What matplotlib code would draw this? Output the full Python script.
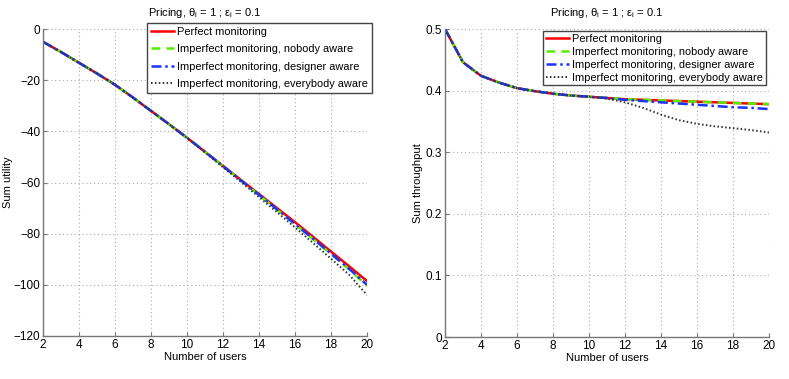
import matplotlib
matplotlib.use("Agg")
import matplotlib.pyplot as plt
import numpy as np

plt.rcParams['font.family'] = ['Liberation Sans', 'DejaVu Sans']
plt.rcParams['axes.unicode_minus'] = True

users = [2, 3, 4, 5, 6, 7, 8, 9, 10, 11, 12, 13, 14, 15, 16, 17, 18, 19, 20]

# Sum utility
util_perfect = [-5.0, -9.0, -13.2, -17.4, -21.8, -26.8, -32.0, -37.2, -42.5, -48.0, -53.5, -59.0, -64.5, -70.0, -75.5, -81.2, -87.0, -92.7, -98.5]
util_nobody = [-5.0, -9.0, -13.2, -17.4, -21.8, -26.8, -32.0, -37.2, -42.5, -48.0, -53.6, -59.2, -64.9, -70.6, -76.3, -82.1, -88.0, -93.9, -100.4]
util_designer = [-5.0, -9.0, -13.2, -17.4, -21.8, -26.8, -32.0, -37.2, -42.5, -48.0, -53.6, -59.2, -64.8, -70.5, -76.2, -82.0, -87.8, -93.7, -100.0]
util_everybody = [-5.0, -9.0, -13.2, -17.4, -21.8, -26.8, -32.0, -37.2, -42.6, -48.2, -54.0, -59.8, -65.7, -71.6, -77.6, -83.6, -89.8, -96.0, -104.0]

# Sum throughput
thr_perfect = [0.500, 0.446, 0.424, 0.413, 0.404, 0.399, 0.395, 0.392, 0.390, 0.388, 0.386, 0.385, 0.384, 0.383, 0.382, 0.381, 0.380, 0.379, 0.378]
thr_nobody = [0.500, 0.446, 0.424, 0.413, 0.404, 0.399, 0.395, 0.392, 0.390, 0.388, 0.386, 0.385, 0.384, 0.383, 0.382, 0.381, 0.380, 0.379, 0.378]
thr_designer = [0.500, 0.446, 0.424, 0.413, 0.404, 0.399, 0.395, 0.392, 0.390, 0.388, 0.385, 0.383, 0.381, 0.379, 0.377, 0.375, 0.373, 0.372, 0.370]
thr_everybody = [0.500, 0.446, 0.424, 0.413, 0.404, 0.399, 0.395, 0.392, 0.390, 0.387, 0.381, 0.372, 0.361, 0.352, 0.346, 0.342, 0.339, 0.336, 0.332]

labels = ["Perfect monitoring",
          "Imperfect monitoring, nobody aware",
          "Imperfect monitoring, designer aware",
          "Imperfect monitoring, everybody aware"]

title = r"Pricing, $\mathregular{\theta_i}$ = 1 ; $\mathregular{\varepsilon_i}$ = 0.1"

FS = 8

fig = plt.figure(figsize=(7.89, 3.79), dpi=100)
ax1 = fig.add_axes([43/789, 1-336/379, 324/789, 307/379])
ax2 = fig.add_axes([445/789, 1-337/379, 324/789, 308/379])

styles = [dict(color='#ff0000', ls='-', lw=1.8),
          dict(color='#55ee00', ls=(0, (3.5, 2.5)), lw=1.8),
          dict(color='#1a33ff', ls=(0, (4, 1.5, 1, 1.5)), lw=1.8),
          dict(color='#333333', ls=(0, (0.8, 1.2)), lw=1.4)]

def style_axes(ax):
    for s in ['top', 'right']:
        ax.spines[s].set_visible(False)
    for s in ['left', 'bottom']:
        ax.spines[s].set_color('#777777')
        ax.spines[s].set_linewidth(1.0)
    ax.grid(True, ls=(0, (1, 2.5)), color='#aaaaaa', lw=0.8)
    ax.tick_params(direction='in', length=3, color='#777777', labelsize=FS + 0.5, pad=2)
    ax.set_xlim(2, 20)
    ax.set_xticks(range(2, 21, 2))
    ax.set_xlabel("Number of users", fontsize=FS, labelpad=1)

for data, st, lab in zip([util_perfect, util_nobody, util_designer, util_everybody], styles, labels):
    ax1.plot(users, data, label=lab, **st)
style_axes(ax1)
ax1.set_ylim(-120, 0)
ax1.set_yticks(range(-120, 1, 20))
ax1.set_ylabel("Sum utility", fontsize=FS)
ax1.yaxis.set_label_coords(-0.093, 0.5)
ax1.set_title(title, fontsize=FS, pad=9)
leg1 = ax1.legend(loc='upper left', bbox_to_anchor=(147/789, 1-23/379), bbox_transform=fig.transFigure,
                  fontsize=FS - 0.1, frameon=True, fancybox=False, framealpha=1, edgecolor='#444444',
                  handlelength=2.1, handletextpad=0.3, labelspacing=0.68, borderpad=0.35, borderaxespad=0)
leg1.get_frame().set_linewidth(1.0)

for data, st, lab in zip([thr_perfect, thr_nobody, thr_designer, thr_everybody], styles, labels):
    ax2.plot(users, data, label=lab, **st)
style_axes(ax2)
ax2.set_ylim(0, 0.5)
ax2.set_yticks([0, 0.1, 0.2, 0.3, 0.4, 0.5])
ax2.set_yticklabels(['0', '0.1', '0.2', '0.3', '0.4', '0.5'])
ax2.set_ylabel("Sum throughput", fontsize=FS)
ax2.yaxis.set_label_coords(-0.068, 0.5)
ax2.set_title(title, fontsize=FS, pad=9)
leg2 = ax2.legend(loc='upper left', bbox_to_anchor=(543/789, 1-31/379), bbox_transform=fig.transFigure,
                  fontsize=FS - 0.1, frameon=True, fancybox=False, framealpha=1, edgecolor='#444444',
                  handlelength=2.1, handletextpad=0.3, labelspacing=0.27, borderpad=0.25, borderaxespad=0)
leg2.get_frame().set_linewidth(1.0)

fig.savefig("out.png", dpi=100)
